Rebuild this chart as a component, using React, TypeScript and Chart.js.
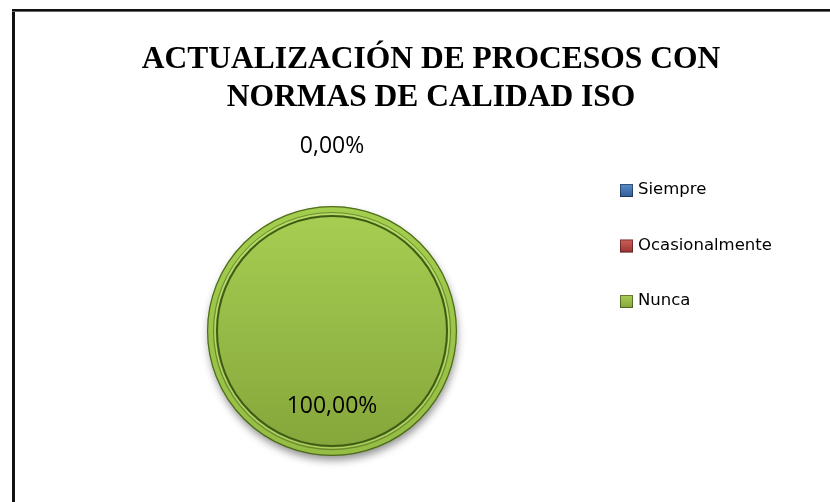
import React, { useEffect, useRef } from "react";
import { Chart, registerables } from "chart.js";

Chart.register(...registerables);

const titleLines = ["ACTUALIZACIÓN DE PROCESOS CON", "NORMAS DE CALIDAD ISO"];
const categories = ["Siempre", "Ocasionalmente", "Nunca"];
const percentages = [0, 0, 100];
const legendColors = ["#4f81bd", "#c0504d", "#9bbb59"];
const sliceTop = ["#5b8ccc", "#cf5f5b", "#a8cf53"];
const sliceBottom = ["#2f5d96", "#9a3431", "#84a53a"];

function fmt(v: number) {
  return v.toFixed(2).replace(".", ",") + "%";
}

const decorPlugin = {
  id: "decor",
  beforeDraw(chart: any) {
    const ctx = chart.ctx;
    ctx.save();
    ctx.fillStyle = "#ffffff";
    ctx.fillRect(0, 0, chart.width, chart.height);
    ctx.fillStyle = "#111111";
    ctx.fillRect(12, 9, 3, chart.height - 9);
    ctx.fillRect(12, 9, chart.width - 12, 2);
    ctx.fillStyle = "#666666";
    ctx.fillRect(12, 11, chart.width - 12, 1);
    // title
    ctx.fillStyle = "#000000";
    ctx.font = "bold 31.5px 'Liberation Serif', 'Times New Roman', serif";
    ctx.textAlign = "center";
    ctx.textBaseline = "alphabetic";
    ctx.fillText(titleLines[0], 431, 68);
    ctx.fillText(titleLines[1], 431, 106);
    ctx.restore();
  },
  beforeDatasetsDraw(chart: any) {
    const meta = chart.getDatasetMeta(0);
    const arc = meta.data[2];
    if (!arc) return;
    const { x, y, outerRadius } = arc.getProps(["x", "y", "outerRadius"], true);
    const ctx = chart.ctx;
    ctx.save();
    ctx.shadowColor = "rgba(0,0,0,0.45)";
    ctx.shadowBlur = 9;
    ctx.shadowOffsetY = 5;
    ctx.shadowOffsetX = 1;
    ctx.fillStyle = "#86a83c";
    ctx.beginPath();
    ctx.arc(x, y, outerRadius - 1, 0, Math.PI * 2);
    ctx.fill();
    ctx.restore();
  },
  afterDatasetsDraw(chart: any) {
    const meta = chart.getDatasetMeta(0);
    const arc = meta.data[2];
    if (!arc) return;
    const { x, y, outerRadius } = arc.getProps(["x", "y", "outerRadius"], true);
    const r = outerRadius;
    const ctx = chart.ctx;
    const ring = (rad: number, w: number, color: string) => {
      ctx.beginPath();
      ctx.lineWidth = w;
      ctx.strokeStyle = color;
      ctx.arc(x, y, rad, 0, Math.PI * 2);
      ctx.stroke();
    };
    ctx.save();
    ring(r - 3, 5, "rgba(160,205,75,0.6)");
    ring(r - 0.6, 1.2, "rgba(60,85,20,0.8)");
    ring(r - 6.5, 1, "rgba(95,125,40,0.8)");
    ring(r - 8, 1.2, "rgba(190,228,115,0.8)");
    ring(r - 10, 2, "#3f5c16");
    ctx.restore();
  },
  afterDraw(chart: any) {
    const ctx = chart.ctx;
    const meta = chart.getDatasetMeta(0);
    const data = chart.data.datasets[0].data as number[];
    ctx.save();
    ctx.fillStyle = "#000000";
    ctx.font = "23px 'Open Sans', 'Liberation Sans', sans-serif";
    ctx.textAlign = "center";
    ctx.textBaseline = "middle";
    const drawn: string[] = [];
    meta.data.forEach((arc: any, i: number) => {
      const p = arc.getProps(["x", "y", "startAngle", "endAngle", "outerRadius"], true);
      const v = data[i];
      let lx: number, ly: number;
      if (v === 0) {
        lx = p.x + Math.cos(p.startAngle) * (p.outerRadius + 60);
        ly = p.y + Math.sin(p.startAngle) * (p.outerRadius + 60);
      } else {
        const mid = (p.startAngle + p.endAngle) / 2;
        lx = p.x + Math.cos(mid) * p.outerRadius * 0.6;
        ly = p.y + Math.sin(mid) * p.outerRadius * 0.6;
      }
      const key = Math.round(lx) + "," + Math.round(ly);
      if (drawn.indexOf(key) >= 0) return;
      drawn.push(key);
      ctx.fillText(fmt(v), lx, ly);
    });
    // legend
    const labels = chart.data.labels as string[];
    ctx.font = "16.5px 'DejaVu Sans', sans-serif";
    ctx.textAlign = "left";
    labels.forEach((lab, i) => {
      const cy = 190 + i * 55.5;
      const bx = 620, by = cy - 6, bs = 13;
      const g = ctx.createLinearGradient(0, by, 0, by + bs);
      g.addColorStop(0, sliceTop[i]);
      g.addColorStop(1, sliceBottom[i]);
      ctx.fillStyle = g;
      ctx.fillRect(bx, by, bs, bs);
      ctx.strokeStyle = "rgba(0,0,0,0.4)";
      ctx.lineWidth = 1;
      ctx.strokeRect(bx + 0.5, by + 0.5, bs - 1, bs - 1);
      ctx.fillStyle = "#000000";
      ctx.fillText(lab, 638, cy);
    });
    ctx.restore();
  },
};

export default function App() {
  const ref = useRef<HTMLCanvasElement | null>(null);
  useEffect(() => {
    document.body.style.margin = "0";
    const canvas = ref.current;
    if (!canvas) return;
    const chart = new Chart(canvas, {
      type: "pie",
      data: {
        labels: categories,
        datasets: [
          {
            data: percentages,
            backgroundColor: (c: any) => {
              const area = c.chart.chartArea;
              const i = c.dataIndex ?? 0;
              if (!area) return legendColors[i];
              const g = c.chart.ctx.createLinearGradient(0, area.top, 0, area.bottom);
              g.addColorStop(0, sliceTop[i]);
              g.addColorStop(1, sliceBottom[i]);
              return g;
            },
            borderWidth: 0,
          },
        ],
      },
      options: {
        responsive: false,
        animation: false,
        devicePixelRatio: 1,
        layout: { padding: { left: 207, top: 206, right: 373, bottom: 46 } },
        plugins: {
          legend: { display: false },
          title: { display: false },
          tooltip: { enabled: false },
        },
      },
      plugins: [decorPlugin],
    });
    return () => chart.destroy();
  }, []);
  return (
    <canvas
      ref={ref}
      width={830}
      height={502}
      style={{ display: "block", width: 830, height: 502 }}
    />
  );
}
